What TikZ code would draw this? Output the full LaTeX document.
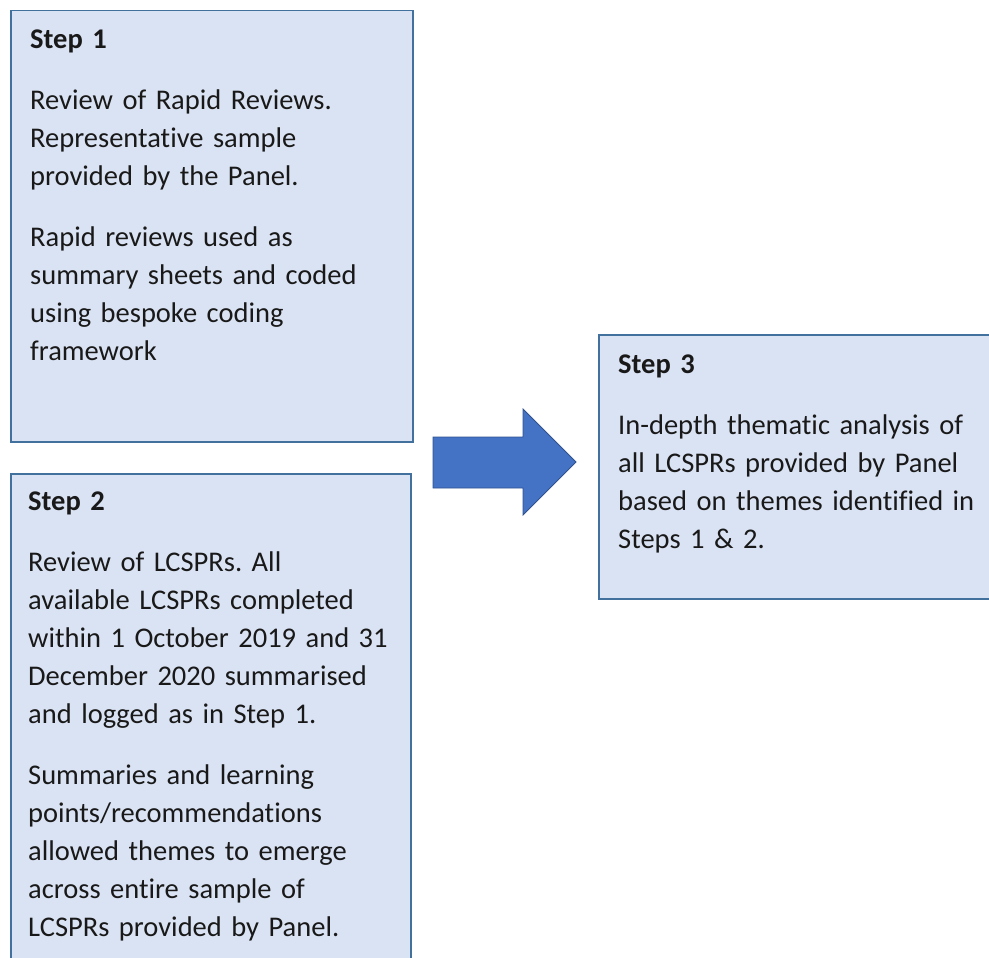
\documentclass[tikz,border=0pt]{standalone}
\usepackage{fontspec}
\setmainfont{Carlito}[Ligatures=NoCommon]
\usetikzlibrary{positioning}
\frenchspacing
\definecolor{boxfill}{RGB}{218,227,243}
\definecolor{boxline}{RGB}{65,113,156}
\definecolor{arrowfill}{RGB}{68,114,196}
\definecolor{arrowline}{RGB}{47,82,143}
\tikzset{stepbox/.style={draw=boxline,fill=boxfill,line width=1.5pt,rectangle,inner sep=0pt,anchor=north west},
  steptext/.style={anchor=base west,align=left,text width=380pt,inner sep=0pt,text=black!90,font=\fontsize{28.5}{38}\selectfont}}

\begin{document}
\begin{tikzpicture}[x=1pt,y=-1pt]
        \useasboundingbox (0,0) rectangle (989,958);
        \clip (0,0) rectangle (989,958);
        \node [stepbox,minimum width=402pt,minimum height=431pt] (s1) at (10,10) {};
        \node [stepbox,minimum width=400pt,minimum height=600pt] (s2) at (10,473) {};
        \node [stepbox,minimum width=420pt,minimum height=264pt] (s3) at (598,334) {};
        \node [steptext] (t1) at (30,49) {\textbf{Step 1}\\[23pt]Review of Rapid Reviews.\\Representative sample\\provided by the Panel.\\[23pt]Rapid reviews used as\\summary sheets and coded\\using bespoke coding\\framework};
        \node [steptext] (t2) at (28,510) {\textbf{Step 2}\\[23pt]Review of LCSPRs. All\\available LCSPRs completed\\within 1 October 2019 and 31\\December 2020 summarised\\and logged as in Step 1.\\[23pt]Summaries and learning\\points/recommendations\\allowed themes to emerge\\across entire sample of\\LCSPRs provided by Panel.};
        \node [steptext] (t3) at (618,373) {\textbf{Step 3}\\[23pt]In-depth thematic analysis of\\all LCSPRs provided by Panel\\based on themes identified in\\Steps 1 \& 2.};
        \draw [draw=arrowline,fill=arrowfill,line width=0.75pt] (433,437) -- (523,437) -- (523,409) -- (576,462) -- (523,515) -- (523,488) -- (433,488) -- cycle;
      \end{tikzpicture}
\end{document}
